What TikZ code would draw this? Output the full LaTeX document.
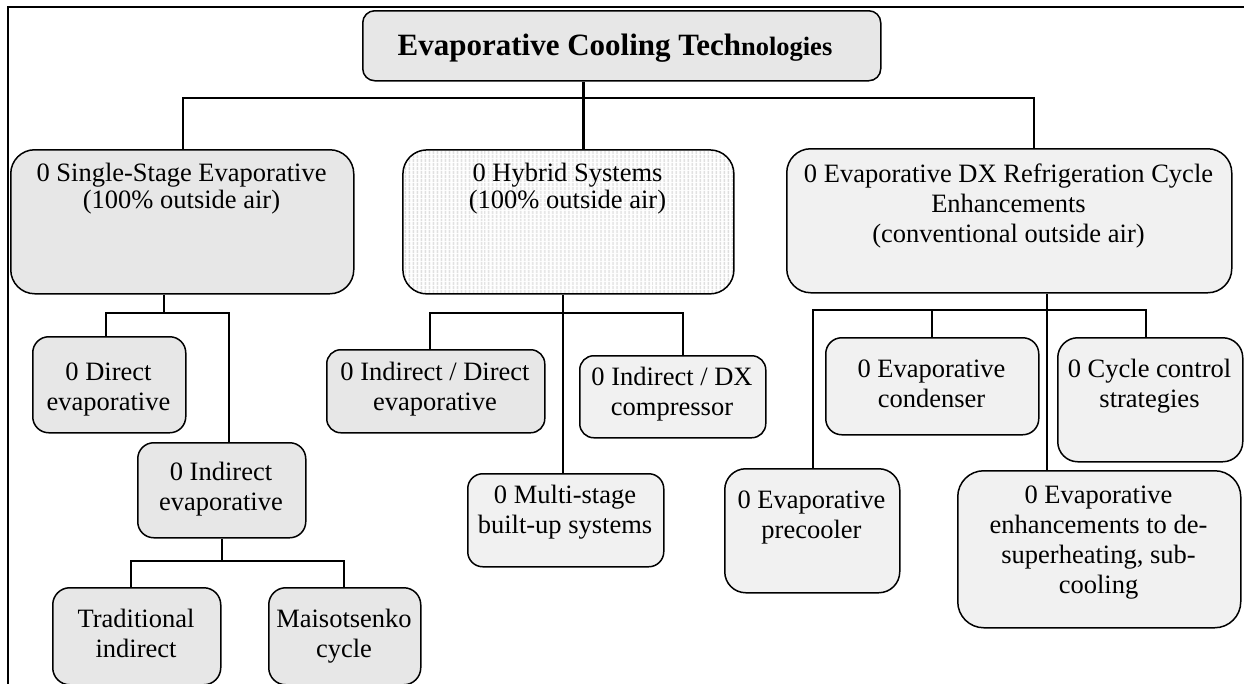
\documentclass[tikz,border=0pt]{standalone}
\usepackage{fontspec}
\setmainfont{Liberation Serif}
\usetikzlibrary{patterns.meta}
\definecolor{boxgray}{RGB}{231,231,231}
\definecolor{dotgray}{RGB}{241,241,241}
\definecolor{stripegray}{RGB}{222,222,222}
\begin{document}
\begin{tikzpicture}[x=1pt,y=-1pt,
  box/.style={draw, line width=1.5pt, rectangle, anchor=north west, inner sep=0pt},
  graybox/.style={box, fill=boxgray},
  dotbox/.style={box, fill=dotgray},
  stripebox/.style={box, preaction={fill=white}, pattern={Lines[angle=90,distance=4pt,line width=1.8pt]}, pattern color=stripegray},
  txt/.style={anchor=north, align=center, inner sep=0pt, font=\fontsize{26.5}{30}\selectfont},
  tighttxt/.style={txt, font=\fontsize{26.5}{27}\selectfont},
  conn/.style={line width=1.6pt},
]
\useasboundingbox (0,0) rectangle (1244,683);
\clip (0,0) rectangle (1244,683);

% frame
\draw[line width=1.8pt] (1250,7) -- (8,7) -- (8,690);

% boxes
\node[graybox, minimum width=518pt, minimum height=70pt, rounded corners=12pt] (title) at (362,10) {};
\node[anchor=base, inner sep=0pt, font=\bfseries\fontsize{31}{34}\selectfont] (title-t) at (615,55) {Evaporative Cooling Tech{\fontsize{26.5}{30}\selectfont nologies}};

\node[graybox, minimum width=343pt, minimum height=144pt, rounded corners=24pt] (single) at (10,149) {};
\node[tighttxt] (single-t) at (181.5,160) {\rule{0pt}{21pt}0 Single-Stage Evaporative\\(100\% outside air)};

\node[stripebox, minimum width=331pt, minimum height=144pt, rounded corners=24pt] (hybrid) at (402,149) {};
\node[tighttxt] (hybrid-t) at (567.5,160) {\rule{0pt}{21pt}0 Hybrid Systems\\(100\% outside air)};

\node[dotbox, minimum width=445pt, minimum height=144pt, rounded corners=24pt] (dx) at (786,148) {};
\node[txt] (dx-t) at (1008.5,161) {\strut 0 Evaporative DX Refrigeration Cycle\\Enhancements\\(conventional outside air)};

\node[graybox, minimum width=153pt, minimum height=96pt, rounded corners=16pt] (direct) at (32,336) {};
\node[txt] (direct-t) at (108.5,359) {\strut 0 Direct\\evaporative};

\node[graybox, minimum width=168pt, minimum height=95pt, rounded corners=16pt] (indirect) at (137,442) {};
\node[txt] (indirect-t) at (221,459) {\strut 0 Indirect\\evaporative};

\node[graybox, minimum width=168pt, minimum height=97pt, rounded corners=17pt] (trad) at (52,587) {};
\node[txt] (trad-t) at (136,606) {\strut Traditional\\indirect};

\node[graybox, minimum width=152pt, minimum height=97pt, rounded corners=17pt] (maiso) at (268,587) {};
\node[txt] (maiso-t) at (344,606) {\strut Maisotsenko\\cycle};

\node[graybox, minimum width=218pt, minimum height=83pt, rounded corners=14pt] (inddir) at (326,349) {};
\node[txt] (inddir-t) at (435,359) {\strut 0 Indirect / Direct\\evaporative};

\node[dotbox, minimum width=186pt, minimum height=82pt, rounded corners=14pt] (inddx) at (579,355) {};
\node[txt] (inddx-t) at (672,364) {\strut 0 Indirect / DX\\compressor};

\node[dotbox, minimum width=196pt, minimum height=93pt, rounded corners=15pt] (multi) at (467,473) {};
\node[txt] (multi-t) at (565,482) {\strut 0 Multi-stage\\built-up systems};

\node[dotbox, minimum width=213pt, minimum height=97pt, rounded corners=16pt] (cond) at (825,337) {};
\node[txt] (cond-t) at (931.5,356) {\strut 0 Evaporative\\condenser};

\node[dotbox, minimum width=185pt, minimum height=124pt, rounded corners=20pt] (ctrl) at (1057,337) {};
\node[txt] (ctrl-t) at (1149.5,356) {\strut 0 Cycle control\\strategies};

\node[dotbox, minimum width=175pt, minimum height=124pt, rounded corners=21pt] (pre) at (724,468) {};
\node[txt] (pre-t) at (811.5,487) {\strut 0 Evaporative\\precooler};

\node[dotbox, minimum width=283pt, minimum height=157pt, rounded corners=26pt] (enh) at (957,470) {};
\node[txt] (enh-t) at (1098.5,482) {\strut 0 Evaporative\\enhancements to de-\\superheating, sub-\\cooling};

% junction coordinates
\coordinate (jt) at (583,98);
\coordinate (jl) at (183,98);
\coordinate (jr) at (1034,98);
\coordinate (s0) at (164,313);
\coordinate (s1) at (106,313);
\coordinate (s2) at (229,313);
\coordinate (i0) at (222,561);
\coordinate (i1) at (131,561);
\coordinate (i2) at (344,561);
\coordinate (h0) at (563,313);
\coordinate (h1) at (430,313);
\coordinate (h2) at (683,313);
\coordinate (d0) at (1047,310);
\coordinate (d1) at (813,310);
\coordinate (d2) at (932,310);
\coordinate (d3) at (1146,310);

% connectors
\draw[line width=3pt] (title.south -| jt) -- (hybrid.north -| jt);
\draw[conn] (single.north -| jl) -- (jl) -- (jr) -- (dx.north -| jr);

\draw[conn] (single.south -| s0) -- (s0);
\draw[conn] (direct.north -| s1) -- (s1) -- (s2) -- (indirect.north -| s2);
\draw[conn] (indirect.south -| i0) -- (i0);
\draw[conn] (trad.north -| i1) -- (i1) -- (i2) -- (maiso.north -| i2);

\draw[conn] (hybrid.south -| h0) -- (multi.north -| h0);
\draw[conn] (inddir.north -| h1) -- (h1) -- (h2) -- (inddx.north -| h2);

\draw[conn] (dx.south -| d0) -- (enh.north -| d0);
\draw[conn] (pre.north -| d1) -- (d1) -- (d3) -- (ctrl.north -| d3);
\draw[conn] (d2) -- (cond.north -| d2);
\end{tikzpicture}
\end{document}
